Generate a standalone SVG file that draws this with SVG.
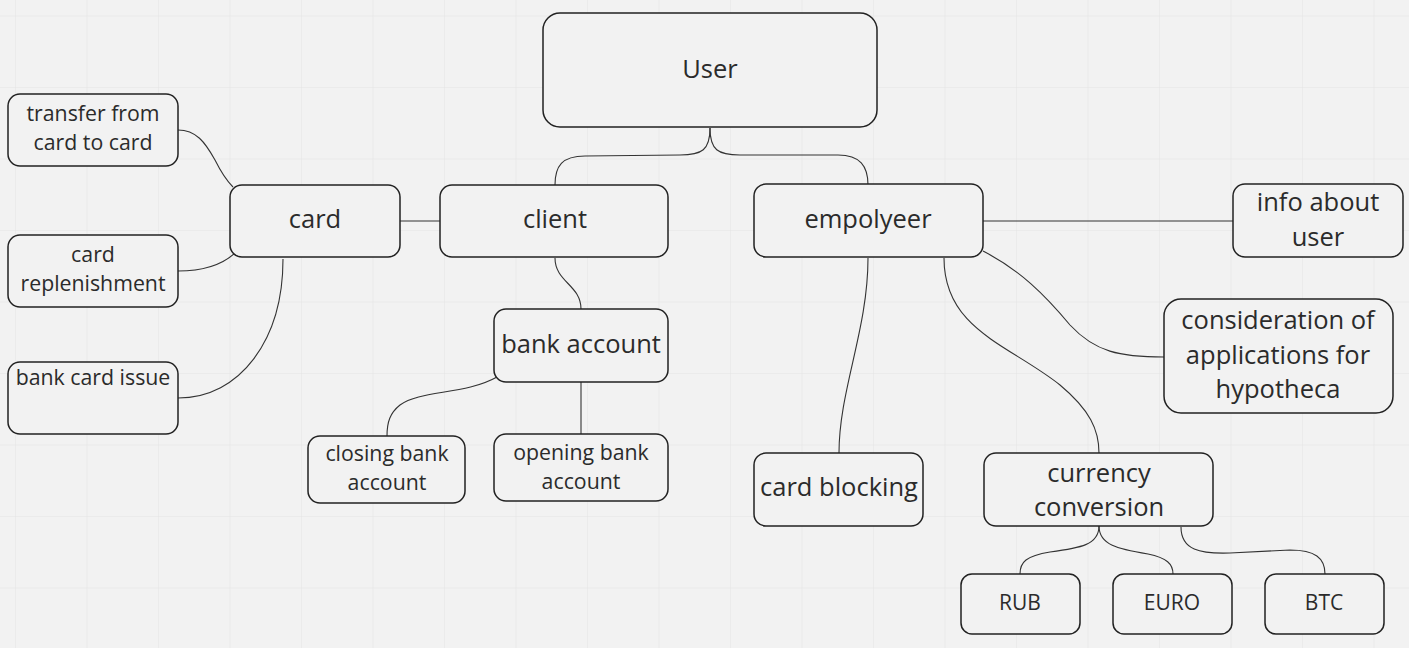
<svg xmlns="http://www.w3.org/2000/svg" width="1409" height="648" viewBox="0 0 1409 648">
<defs>
<pattern id="grid" x="15" y="15.5" width="71.5" height="71.5" patternUnits="userSpaceOnUse">
<path d="M0,0 V71.5 M0,0 H71.5" fill="none" stroke="#e4e4e4" stroke-width="1"/>
</pattern>
<style>
.n rect{fill:#f2f2f2;stroke:#222;stroke-width:1.5}
.t{font-family:"Open Sans","Noto Sans","Liberation Sans",sans-serif;fill:#2b2b2b;text-anchor:middle}
.l{font-size:25.5px}
.s{font-size:21.3px}
.c{font-size:21px}
#connectors path{fill:none;stroke:#333;stroke-width:1.1}
</style>
</defs>
<rect width="1409" height="648" fill="#f2f2f2"/>
<rect width="1409" height="648" fill="url(#grid)"/>
<g id="connectors">
<path d="M710,128 C710,150 702,155 680,155 L585,156 C562,156 555,166 555,185"/>
<path d="M710,128 C710,150 718,155 740,155 L838,155 C860,155 868,166 868,185"/>
<path d="M400,221 H440"/>
<path d="M178,130 C196,130 205,142 215,160 C222,174 228,182 233,187"/>
<path d="M178,271 C205,271 222,265 235,253"/>
<path d="M283,259 C283,340 240,398 178,398"/>
<path d="M555,258 C555,282 581,285 581,309"/>
<path d="M497,377 C465,395 420,390 400,405 C390,413 387,422 387,436"/>
<path d="M581,382 V434"/>
<path d="M983,221 H1233"/>
<path d="M983,251 C1020,270 1045,295 1070,325 C1095,352 1120,357 1164,357"/>
<path d="M868,258 C868,330 839,390 839,453"/>
<path d="M944,258 C944,330 1010,345 1060,385 C1090,410 1099,430 1099,453"/>
<path d="M1099,526 C1099,545 1080,548 1050,552 C1026,556 1020,562 1020,574"/>
<path d="M1099,526 C1099,545 1118,549 1148,554 C1167,558 1173,564 1173,574"/>
<path d="M1181,527 C1181,550 1200,554 1230,553 L1290,550 C1315,550 1325,558 1325,574"/>
</g>
<g id="user" class="n"><rect x="543" y="13" width="334" height="114" rx="17"/><text class="t l" x="710" y="78">User</text></g>
<g id="client" class="n"><rect x="440" y="185" width="228" height="72" rx="12"/><text class="t l" x="555" y="228">client</text></g>
<g id="card" class="n"><rect x="230" y="185" width="170" height="72" rx="12"/><text class="t l" x="315" y="228">card</text></g>
<g id="empolyeer" class="n"><rect x="754" y="184" width="229" height="73" rx="12"/><text class="t l" x="868" y="228">empolyeer</text></g>
<g id="info" class="n"><rect x="1233" y="184" width="170" height="73" rx="12"/><text class="t l" x="1318" y="211">info about</text><text class="t l" x="1318" y="246">user</text></g>
<g id="transfer" class="n"><rect x="8" y="94" width="170" height="72" rx="12"/><text class="t s" x="93" y="121">transfer from</text><text class="t s" x="93" y="150">card to card</text></g>
<g id="replenishment" class="n"><rect x="8" y="235" width="170" height="72" rx="12"/><text class="t s" x="93" y="262">card</text><text class="t s" x="93" y="291">replenishment</text></g>
<g id="issue" class="n"><rect x="8" y="362" width="170" height="72" rx="12"/><text class="t s" x="93" y="385">bank card issue</text></g>
<g id="bankaccount" class="n"><rect x="494" y="309" width="174" height="73" rx="12"/><text class="t l" x="581" y="353">bank account</text></g>
<g id="closing" class="n"><rect x="308" y="436" width="157" height="67" rx="12"/><text class="t s" x="387" y="461">closing bank</text><text class="t s" x="387" y="490">account</text></g>
<g id="opening" class="n"><rect x="494" y="434" width="174" height="67" rx="12"/><text class="t s" x="581" y="460">opening bank</text><text class="t s" x="581" y="489">account</text></g>
<g id="consideration" class="n"><rect x="1164" y="299" width="229" height="114" rx="17"/><text class="t l" x="1278" y="329">consideration of</text><text class="t l" x="1278" y="364">applications for</text><text class="t l" x="1278" y="398">hypotheca</text></g>
<g id="blocking" class="n"><rect x="754" y="453" width="169" height="73" rx="12"/><text class="t l" x="839" y="496">card blocking</text></g>
<g id="conversion" class="n"><rect x="984" y="453" width="229" height="73" rx="12"/><text class="t l" x="1099" y="482">currency</text><text class="t l" x="1099" y="516">conversion</text></g>
<g id="rub" class="n"><rect x="961" y="574" width="119" height="60" rx="11"/><text class="t c" x="1020" y="610">RUB</text></g>
<g id="euro" class="n"><rect x="1113" y="574" width="119" height="60" rx="11"/><text class="t c" x="1172" y="610">EURO</text></g>
<g id="btc" class="n"><rect x="1265" y="574" width="119" height="60" rx="11"/><text class="t c" x="1324" y="610">BTC</text></g>
</svg>
